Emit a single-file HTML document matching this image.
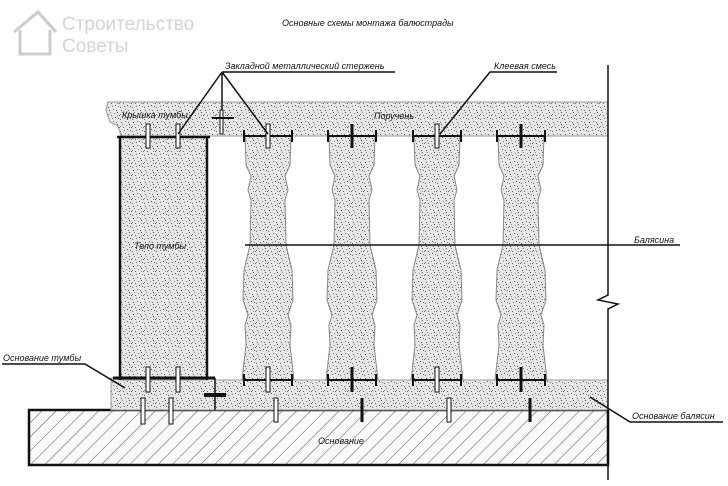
<!DOCTYPE html>
<html><head><meta charset="utf-8"><style>
html,body{margin:0;padding:0;background:#fff;}
svg{display:block;}
text{font-family:"Liberation Sans",sans-serif;font-style:italic;fill:#111;}
</style></head><body>
<svg width="728" height="486" viewBox="0 0 728 486" xmlns="http://www.w3.org/2000/svg">
<defs>
<pattern id="sp" width="12" height="12" patternUnits="userSpaceOnUse">
<rect width="12" height="12" fill="#e6e6e6"/>
<rect x="1" y="2" width="1" height="1" fill="#555"/><rect x="5" y="1" width="1" height="1" fill="#777"/>
<rect x="9" y="4" width="1" height="1" fill="#555"/><rect x="3" y="7" width="1" height="1" fill="#666"/>
<rect x="7" y="9" width="1" height="1" fill="#555"/><rect x="10" y="10" width="1" height="1" fill="#777"/>
<rect x="0" y="11" width="1" height="1" fill="#666"/><rect x="6" y="5" width="1" height="1" fill="#888"/>
<rect x="2" y="4" width="1" height="1" fill="#888"/><rect x="11" y="7" width="1" height="1" fill="#666"/>
<rect x="4" y="10" width="1" height="1" fill="#777"/><rect x="8" y="2" width="1" height="1" fill="#666"/>
<rect x="9" y="7" width="1" height="1" fill="#888"/><rect x="0" y="6" width="1" height="1" fill="#777"/>
</pattern>
<pattern id="hatch" width="10" height="10" patternUnits="userSpaceOnUse" patternTransform="rotate(45)">
<rect width="10" height="10" fill="#fafafa"/><line x1="0" y1="0" x2="0" y2="10" stroke="#555" stroke-width="1"/>
</pattern>
<path id="bal" d="M-23,0 L-22,29 L-17,40 L-20,54 L-17,64 L-18,109 L-24,134 L-25,164 L-20,179 L-23,189 L-22,209 L-26,244 L26,244 L22,209 L23,189 L20,179 L25,164 L24,134 L18,109 L17,64 L20,54 L17,40 L22,29 L23,0 Z"/>
</defs>

<g fill="none" stroke="#ccc" stroke-width="3">
<path d="M14,32 L38,12 L56,32 M20,30 L20,54 L50,54 L50,30"/>
</g>
<text x="62" y="30" style="font-style:normal;font-size:19px;fill:#d4d4d4">Строительство</text>
<text x="62" y="52" style="font-style:normal;font-size:19px;fill:#d4d4d4">Советы</text>

<text x="282" y="26" font-size="9">Основные схемы монтажа балюстрады</text>

<rect x="29" y="410" width="579" height="55" fill="url(#hatch)" stroke="#111" stroke-width="2.5"/>
<rect x="215" y="380" width="393" height="30" fill="url(#sp)" stroke="#999" stroke-width="1"/>
<rect x="111" y="378" width="104" height="32" fill="url(#sp)" stroke="#999" stroke-width="1"/>
<line x1="215" y1="378" x2="215" y2="410" stroke="#111" stroke-width="1.5"/>

<path d="M108,102 L608,102 L608,136 L121,136 L118,126 L110,122 L106,110 Z" fill="url(#sp)" stroke="#999" stroke-width="1"/>

<rect x="120" y="136" width="87" height="244" fill="url(#sp)" stroke="#999"/>
<line x1="120" y1="136" x2="120" y2="380" stroke="#111" stroke-width="2.5"/>
<line x1="207" y1="136" x2="207" y2="380" stroke="#111" stroke-width="2.5"/>
<line x1="117" y1="137" x2="210" y2="137" stroke="#111" stroke-width="2.5"/>
<line x1="113" y1="378" x2="215" y2="378" stroke="#111" stroke-width="3"/>

<g fill="url(#sp)" stroke="#888" stroke-width="1">
<use href="#bal" x="268" y="136"/><use href="#bal" x="352" y="136"/>
<use href="#bal" x="437" y="136"/><use href="#bal" x="521" y="136"/>
</g>
<g stroke="#111" stroke-width="2">
<path d="M244,136h48M244,130v12M292,130v12M244,380h48M244,374v12M292,374v12"/>
<path d="M328,136h48M328,130v12M376,130v12M328,380h48M328,374v12M376,374v12"/>
<path d="M413,136h48M413,130v12M461,130v12M413,380h48M413,374v12M461,374v12"/>
<path d="M497,136h48M497,130v12M545,130v12M497,380h48M497,374v12M545,374v12"/>
</g>
<g fill="#fff" stroke="#111" stroke-width="1">
<rect x="146" y="124" width="4" height="24"/><rect x="176" y="124" width="4" height="24"/>
<rect x="266" y="124" width="4" height="24"/><rect x="435" y="124" width="4" height="24"/>
<rect x="146" y="367" width="4" height="25"/><rect x="176" y="367" width="4" height="25"/>
<rect x="141" y="398" width="4" height="26"/><rect x="169" y="398" width="4" height="26"/>
<rect x="266" y="367" width="4" height="25"/><rect x="435" y="367" width="4" height="25"/>
<rect x="274" y="398" width="4" height="24"/><rect x="447" y="398" width="4" height="24"/>
<rect x="220" y="110" width="3" height="24"/>
</g>
<g stroke="#111" stroke-width="3">
<path d="M352,124v24M521,124v24M352,367v25M521,367v25M362,398v24M530,398v24"/>
</g>
<path d="M212,118h22" stroke="#111" stroke-width="2"/>
<path d="M204,395h22" stroke="#111" stroke-width="4"/>

<path d="M608,65 L608,295 L598,300 L618,304 L608,309 L608,480" fill="none" stroke="#111" stroke-width="1.5"/>

<g stroke="#111" stroke-width="1.5" fill="none">
<path d="M222,72 L395,72 M222,72 L178,134 M222,72 L268,134 M222,72 L222,110"/>
<path d="M440,134 L490,72 L557,72"/>
<path d="M245,245 L680,245"/>
<path d="M2,364 L85,364 L125,388"/>
<path d="M590,397 L630,422 L723,422"/>
</g>
<text x="225" y="69" font-size="9">Закладной металлический стержень</text>
<text x="494" y="69" font-size="9">Клеевая смесь</text>
<text x="122" y="118" font-size="9">Крышка тумбы</text>
<text x="374" y="119" font-size="9">Поручень</text>
<text x="134" y="249" font-size="9">Тело тумбы</text>
<text x="634" y="243" font-size="9">Балясина</text>
<text x="3" y="361" font-size="9">Основание тумбы</text>
<text x="632" y="419" font-size="9">Основание балясин</text>
<text x="318" y="444" font-size="9">Основание</text>
</svg>
</body></html>
